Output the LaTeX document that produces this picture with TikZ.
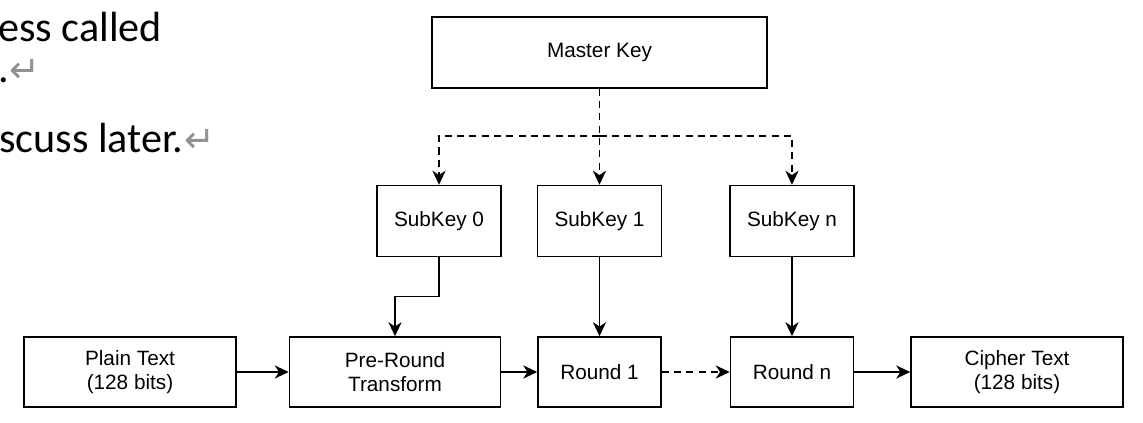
\documentclass[tikz,border=0pt]{standalone}
\usepackage{fontspec}
\setmainfont{Liberation Sans}
\newfontfamily\docfont{Carlito}
\newfontfamily\markfont{DejaVu Sans}
\usepackage{tikz}
\usetikzlibrary{arrows.meta, positioning, calc}
\definecolor{mydark}{RGB}{0,0,0}
\definecolor{mygrey}{RGB}{145,145,145}
\newcommand{\retmark}{\kern0.5pt{\markfont\fontsize{21}{24}\selectfont\color{mygrey}↵}}
\tikzset{
  keybox/.style={rectangle, draw=mydark, fill=white,
    minimum width=2.48cm, minimum height=1.42cm, inner sep=0pt,
    align=center, font=\fontsize{11.8}{13.3}\selectfont, line width=0.85pt},
  widebox/.style={keybox, minimum width=4.24cm, minimum height=1.4cm},
  roundbox/.style={keybox, minimum width=2.46cm, minimum height=1.4cm},
  masterbox/.style={keybox, minimum width=6.7cm},
  arrow/.style={-{Stealth[length=8pt, width=7.5pt, inset=2.5pt]},
    line width=0.85pt, color=mydark},
  dasharrow/.style={arrow, dash pattern=on 4pt off 3pt},
  doctext/.style={anchor=base west, inner sep=0pt,
    font=\docfont\fontsize{24}{28}\selectfont}
}

\begin{document}
\begin{tikzpicture}
  \useasboundingbox (0,0) rectangle (22.86,-8.46);

  \node[doctext] (line1) at (-0.04,-0.84) {ess called};
  \node[doctext] (line2) at (-0.04,-1.66) {.\retmark};
  \node[doctext] (line3) at (-0.02,-3.06) {scuss later.\retmark};

  \node[widebox] (plain) at (2.6,-7.44) {Plain Text\\(128 bits)};
  \node[widebox, minimum width=4.22cm, right=1.04cm of plain] (pre) {Pre-Round\\Transform};
  \node[roundbox, right=0.72cm of pre] (r1) {Round 1};
  \node[roundbox, right=1.36cm of r1] (rn) {Round n};
  \node[widebox, right=1.12cm of rn] (cipher) {Cipher Text\\(128 bits)};
  \node[keybox, above=1.58cm of r1] (sk1) {SubKey 1};
  \node[keybox, above=1.58cm of rn] (skn) {SubKey n};
  \node[keybox, left=0.7cm of sk1] (sk0) {SubKey 0};
  \node[masterbox, above=1.92cm of sk1] (mk) {Master Key};

  \coordinate[below=0.94cm of mk.south] (bus);
  \draw[dasharrow] (mk.south) -- (sk1.north);
  \draw[dasharrow] (bus) -| (sk0.north);
  \draw[dasharrow] (bus) -| (skn.north);

  \draw[arrow] (sk0.south) -- ++(0,-0.78) -| (pre.north);
  \draw[arrow] (sk1) -- (r1);
  \draw[arrow] (skn) -- (rn);
  \draw[arrow] (plain) -- (pre);
  \draw[arrow] (pre) -- (r1);
  \draw[dasharrow] (r1) -- (rn);
  \draw[arrow] (rn) -- (cipher);
\end{tikzpicture}
\end{document}
